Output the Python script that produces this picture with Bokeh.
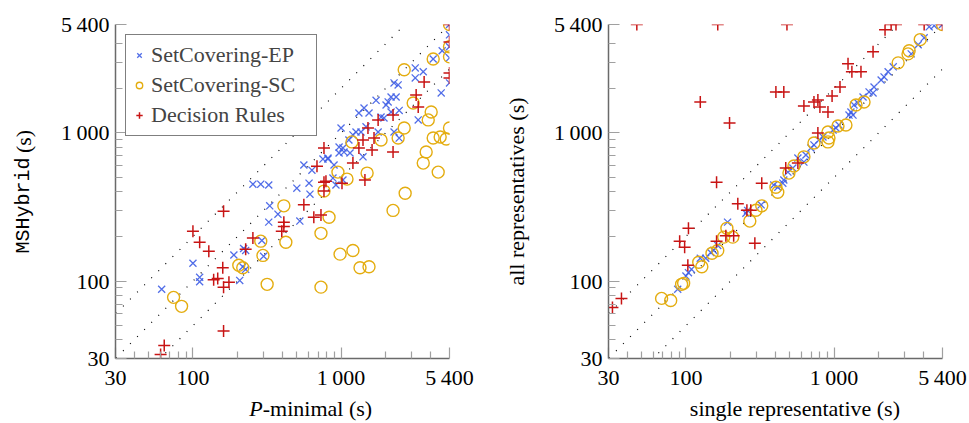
import numpy as np
from bokeh.plotting import figure
from bokeh.layouts import row, column
from bokeh.models import Range1d, FixedTicker, Legend, LegendItem
from bokeh.core.properties import value
from bokeh.embed import file_html
from bokeh.resources import INLINE

# ---------------- axis definition ----------------
AX_MIN, AX_MAX = 30, 5400
MAJOR_TICKS = [30, 100, 1000, 5400]
MAJOR_LABELS = {30: "30", 100: "100", 1000: "1\u2009000", 5400: "5\u2009400"}
MINOR_TICKS = [40, 50, 60, 70, 80, 90, 200, 300, 400, 500, 600, 700, 800, 900, 2000, 3000, 4000]
REF_FACTORS = [0.5, 1.0, 2.0]

SERIES_NAMES = ["SetCovering-EP", "SetCovering-SC", "Decision Rules"]

# ---------------- left panel: P-minimal vs MSHybrid ----------------
ep_pmin = [5400, 5400, 5400, 5400, 4820, 4190, 3170, 3590, 3170, 2280, 2430, 5400, 4746, 2354, 2177,
           2080, 2014, 1724, 2470, 2177, 1430, 1320, 1545, 1863, 1950, 3320, 2280, 2470, 1780, 1475,
           1364, 1262, 1203, 1130, 1000, 970, 1030, 1047, 816, 970, 1150, 1407, 897, 882, 924, 1030,
           755, 816, 561, 636, 503, 608, 617, 254, 287, 325, 330, 375, 325, 527, 292, 220, 227, 227,
           207, 189, 217, 100, 111, 111, 61.5, 300]
ep_msh = [5400, 4600, 3820, 3215, 3590, 3160, 2750, 2590, 2354, 2177, 2110, 2177, 1863, 1750, 1750,
          1620, 1545, 1660, 1420, 1385, 1475, 1364, 1364, 1280, 1262, 1225, 1015, 924, 1015, 1100,
          1015, 1015, 970, 897, 1080, 803, 791, 743, 677, 732, 732, 690, 608, 496, 445, 481,
          666, 666, 608, 561, 424, 458, 386, 451, 451, 445, 322, 283, 250, 254, 188, 166, 161, 120,
          101, 150, 125, 132, 106, 99, 88, 147]

sc_pmin = [5400, 5400, 5400, 4190, 2670, 3070, 4061, 3880, 2670, 2430, 1863, 1185, 4190, 4670, 5130,
           5400, 3757, 3590, 4530, 1500, 1097, 953, 2710, 2245, 767, 830, 732, 985, 1203, 1343, 1545,
           732, 411, 424, 287, 204, 217, 297, 317, 74, 83.8]
sc_msh = [5400, 3820, 3265, 3160, 2670, 1594, 1385, 1225, 1080, 924, 897, 870, 924, 940, 910,
          1080, 743, 626, 544, 536, 488, 544, 392, 300, 405, 270, 210, 152, 161, 123, 125,
          91, 322, 183, 186, 128, 123, 149, 95, 77.6, 67.5]

dr_pmin = [5400, 5400, 5400, 5400, 3640, 3215, 3320, 2245, 1780, 1520, 1407, 1320, 1670, 1620, 2245,
           767, 1203, 1450, 1015, 767, 767, 688, 791, 561, 655, 732, 411, 411, 398, 161, 100, 111,
           128, 254, 227, 159, 138, 147, 175, 161, 161, 64, 60.5]
dr_msh = [5400, 4120, 2545, 2354, 2210, 1808, 1500, 1320, 1225, 1080, 897, 791, 924, 767, 743,
          791, 626, 481, 458, 465, 405, 596, 472, 327, 270, 279, 250, 234, 217, 296, 217, 183,
          159, 195, 164, 123, 102, 104, 98, 91, 46, 36.7, 31.9]

# ---------------- right panel: single vs all representatives ----------------
ep_single = [5400, 4746, 4390, 4061, 3700, 3320, 2510, 2318, 2177, 2080, 1863, 1724, 1834, 1570, 1450,
             1364, 1300, 1343, 1262, 1080, 1030, 985, 842, 791, 732, 698, 646, 626, 570, 527, 488,
             451, 417, 392, 458, 322, 261, 254, 191, 164, 154, 147, 125, 136, 109, 104, 100, 88]
ep_all = [5400, 5300, 5210, 4390, 3940, 3420, 2795, 2590, 2390, 2280, 2045, 1893, 1863, 1750, 1594,
          1545, 1385, 1320, 1320, 1132, 1080, 1047, 940, 897, 830, 791, 710, 636, 677, 579, 544,
          458, 430, 445, 481, 327, 300, 287, 250, 174, 161, 156, 142.5, 142.5, 120, 114, 108, 88]

sc_single = [5400, 3820, 3215, 3160, 2710, 1594, 1407, 1203, 1063, 910, 924, 910, 732, 626, 536, 496,
             405, 417, 325, 297, 270, 189, 180, 207, 150, 164, 122, 128, 93.5, 96.5, 68.5, 78.9]
sc_all = [5400, 4270, 3590, 3420, 2974, 1620, 1545, 1132, 1115, 1015, 924, 870, 855, 690, 598, 536,
          430, 398, 322, 301, 254, 227, 198, 198, 154, 161, 134, 125, 95, 96.5, 76.4, 74]

dr_single = [46.6, 164, 481, 125, 197, 405, 458, 161, 325, 472, 570, 778, 626, 732, 778, 803, 910,
             970, 1097, 1243, 1320, 1520, 1834, 2210, 2430, 2620, 4061, 5400, 224, 258, 274, 104,
             90.7, 98, 161, 186, 210, 292, 103, 36.7, 31.9]
dr_all = [5400, 5400, 5400, 1620, 1168, 1893, 1893, 465, 458, 579, 626, 999, 1520, 1620, 1670, 1500,
          1385, 1780, 2045, 2930, 2590, 2590, 3530, 4970, 5400, 5400, 5400, 5400, 333, 301, 301, 227,
          186, 169, 186, 202, 202, 180, 128, 76.4, 66.4]

# ---------------- styling / layout ----------------
SERIF = "Liberation Serif"
MONO = "Liberation Mono"
FS = "22px"
BLUE = "#3f5ee6"
GOLD = "#e4ad10"
RED = "#c81414"
FRAME = 334
TOP = 24
PLOT_H = 394          # figure height holding the frame and the tick labels
XLAB_H = 423 - PLOT_H  # strip holding the x-axis titles


def make_fig(border_left, border_right):
    p = figure(frame_width=FRAME, frame_height=FRAME, x_axis_type="log", y_axis_type="log",
               x_range=Range1d(AX_MIN, AX_MAX), y_range=Range1d(AX_MIN, AX_MAX),
               output_backend="svg", toolbar_location=None,
               min_border_left=border_left, min_border_right=border_right,
               min_border_top=TOP, min_border_bottom=PLOT_H - TOP - FRAME)
    p.xgrid.visible = False
    p.ygrid.visible = False
    p.outline_line_color = None
    p.background_fill_color = "white"
    p.border_fill_color = "white"
    for ax in (p.xaxis[0], p.yaxis[0]):
        ax.ticker = FixedTicker(ticks=MAJOR_TICKS, minor_ticks=MINOR_TICKS)
        ax.major_label_overrides = MAJOR_LABELS
        ax.axis_line_color = "#6a6a6a"
        ax.axis_line_width = 1.5
        ax.major_tick_in = 11
        ax.major_tick_out = 0
        ax.minor_tick_in = 7
        ax.minor_tick_out = 0
        ax.major_tick_line_color = "#a0a0a0"
        ax.minor_tick_line_color = "#a0a0a0"
        ax.major_tick_line_width = 1.2
        ax.minor_tick_line_width = 1.2
        ax.major_label_text_font = SERIF
        ax.major_label_text_font_size = FS
        ax.major_label_text_color = "black"
        ax.major_label_standoff = 6
    xr = np.array([1.0, 1e5])
    for k in REF_FACTORS:
        p.line(xr, k * xr, line_color="black", line_dash="1 9", line_width=1.2)
    return p


def label_fig(w, h):
    f = figure(width=w, height=h, x_range=Range1d(0, w), y_range=Range1d(0, h),
               output_backend="svg", toolbar_location=None, min_border=0,
               x_axis_location=None, y_axis_location=None)
    f.xgrid.visible = False
    f.ygrid.visible = False
    f.outline_line_color = None
    f.background_fill_color = "white"
    f.border_fill_color = "white"
    return f


def put_text(f, x, y, txt, font=SERIF, size=FS, align="center", angle=0.0, style="normal"):
    f.text(x=[x], y=[y], text=[txt], angle=angle, text_align=align, text_baseline="middle",
           text_font=value(font), text_font_size=value(size), text_font_style=style,
           text_color="black")


def add_points(p, ex, ey, sx, sy, dx, dy):
    r1 = p.scatter(ex, ey, marker="x", size=10, line_color=BLUE, line_width=1.3, line_alpha=0.9)
    r2 = p.scatter(sx, sy, marker="circle", size=12, fill_color=None, line_color=GOLD, line_width=1.4)
    r3 = p.scatter(dx, dy, marker="cross", size=12, line_color=RED, line_width=1.5)
    return [r1, r2, r3]


# ---------------- left panel ----------------
YL1_W = 40
p1 = make_fig(115 - YL1_W, 31)
rs = add_points(p1, ep_pmin, ep_msh, sc_pmin, sc_msh, dr_pmin, dr_msh)
legend = Legend(items=[LegendItem(label=n, renderers=[r]) for n, r in zip(SERIES_NAMES, rs)],
                location="top_left")
legend.label_text_font = SERIF
legend.label_text_font_size = FS
legend.border_line_color = "black"
legend.border_line_width = 1
legend.padding = 5
legend.spacing = 0
legend.margin = 10
legend.glyph_width = 16
legend.glyph_height = 30
legend.label_height = 30
legend.label_width = 160
legend.label_standoff = 4
legend.background_fill_alpha = 1
p1.add_layout(legend)

yl1 = label_fig(YL1_W, PLOT_H)
split = PLOT_H - 157
put_text(yl1, 23, split, "MSHybrid", font=MONO, size="20px", align="right", angle=np.pi / 2)
put_text(yl1, 23, split, "\u2009(s)", align="left", angle=np.pi / 2)

P1_W = 115 - YL1_W + FRAME + 31
xl1 = label_fig(P1_W, XLAB_H)
put_text(xl1, 234 - YL1_W, XLAB_H - 14, "P", align="right", style="italic")
put_text(xl1, 234 - YL1_W, XLAB_H - 14, "-minimal (s)", align="left")

# ---------------- right panel ----------------
YL2_W = 50
left2 = YL1_W + P1_W
p2 = make_fig(608 - left2 - YL2_W, 27)
add_points(p2, ep_single, ep_all, sc_single, sc_all, dr_single, dr_all)

yl2 = label_fig(YL2_W, PLOT_H)
put_text(yl2, 36, PLOT_H - 191, "all representatives (s)", angle=np.pi / 2)

P2_W = 608 - left2 - YL2_W + FRAME + 27
xl2 = label_fig(P2_W, XLAB_H)
put_text(xl2, 775 - left2 - YL2_W, XLAB_H - 14, "single representative (s)")

layout = row(yl1, column(p1, xl1), yl2, column(p2, xl2))
open("out.html", "w").write(file_html(layout, INLINE))
